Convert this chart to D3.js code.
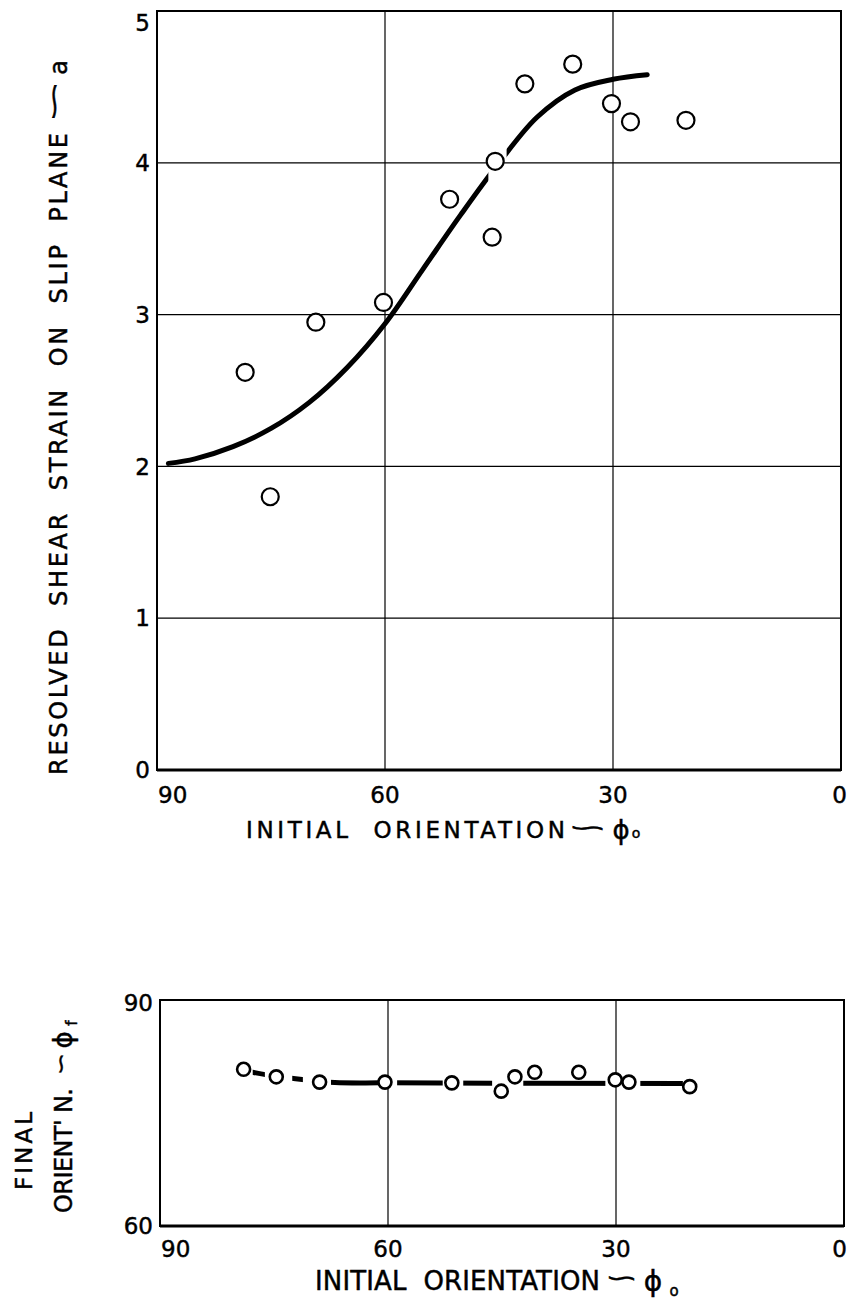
<!DOCTYPE html>
<html>
<head>
<meta charset="utf-8">
<script src="https://cdn.jsdelivr.net/npm/d3@7"></script>
<style>
  body { margin: 0; background: #fff; }
  svg { display: block; }
  text { font-family: "DejaVu Sans", sans-serif; fill: #000; stroke: #000; stroke-width: 0.45px; }
</style>
</head>
<body>
<div id="chart"></div>
<script>
// ---- data ----

// upper panel: resolved shear strain a vs initial orientation phi0
var strainPhi0 = [78.4, 75.1, 69.1, 60.2, 51.5, 45.9, 45.5, 41.6, 35.3, 30.2, 27.7, 20.4];
var strainA    = [2.62, 1.80, 2.95, 3.08, 3.76, 3.51, 4.01, 4.52, 4.65, 4.39, 4.27, 4.28];

// hand-drawn curve through them
var curvePhi0 = [88.5, 85, 80, 75, 70, 65, 60, 55, 50, 45, 40, 35, 30, 25.5];
var curveA    = [2.02, 2.05, 2.13, 2.25, 2.42, 2.65, 2.94, 3.30, 3.66, 4.00, 4.30, 4.48, 4.55, 4.58];
var curveInk  = [[90, 46.4], [44.0, 0]];   // curve is broken round one point

// lower panel: final orientation phif vs phi0
var finalPhi0 = [79.0, 74.7, 69.0, 60.4, 51.6, 45.1, 43.3, 40.7, 34.9, 30.1, 28.3, 20.3];
var finalPhif = [80.8, 79.8, 79.1, 79.1, 79.0, 77.9, 79.8, 80.4, 80.4, 79.4, 79.1, 78.5];

var fitPhi0 = [78, 75, 71, 67, 60, 21];
var fitPhif = [80.45, 79.9, 79.4, 79.05, 79.0, 78.9];
var fitInk  = [[77.8, 76.2], [72.6, 71.2], [67.5, 60.8], [58.8, 52.8], [50.1, 46.3], [42.2, 31.4], [26.8, 21.2]];

var xTicks = [90, 60, 30, 0];
var aTicks = [0, 1, 2, 3, 4, 5];
var fTicks = [60, 90];

// ---- drawing ----
var W = 847, H = 1299;
var svg = d3.select('#chart').append('svg')
	.attr('width', W)
	.attr('height', H);
svg.append('rect').attr('width', W).attr('height', H).attr('fill', '#fff');

// places a text, optionally stretched to a length; rot = rotate -90
function label(txt, x, y, size, opts) {
	opts = opts || {};
	var t = svg.append('text')
		.attr('transform', 'translate(' + x + ',' + y + ')' + (opts.rot ? ' rotate(-90)' : ''))
		.attr('text-anchor', opts.anchor || 'middle')
		.style('font-size', size + 'px')
		.style('white-space', 'pre')
		.text(txt);
	if (opts.len) {
		t.attr('textLength', opts.len)
		 .attr('lengthAdjust', opts.glyphs ? 'spacingAndGlyphs' : 'spacing');
	}
	if (opts.dy) t.attr('dy', opts.dy);
	return t;
}

function panel(cfg) {
	var x = d3.scaleLinear().domain([90, 0]).range([cfg.left, cfg.right]);
	var y = d3.scaleLinear().domain(cfg.yDomain).range([cfg.bottom, cfg.top]);
	var g = svg.append('g');

	// grid
	g.selectAll('.vg').data(xTicks.slice(1, -1)).enter().append('line')
		.attr('x1', function(d){ return x(d); })
		.attr('x2', function(d){ return x(d); })
		.attr('y1', cfg.top).attr('y2', cfg.bottom)
		.attr('stroke', '#000').attr('stroke-width', 1.2);
	g.selectAll('.hg').data(cfg.yTicks.slice(1, -1)).enter().append('line')
		.attr('y1', function(d){ return y(d); })
		.attr('y2', function(d){ return y(d); })
		.attr('x1', cfg.left).attr('x2', cfg.right)
		.attr('stroke', '#000').attr('stroke-width', 1.2);

	// frame
	g.append('rect')
		.attr('x', cfg.left).attr('y', cfg.top)
		.attr('width', cfg.right - cfg.left).attr('height', cfg.bottom - cfg.top)
		.attr('fill', 'none').attr('stroke', '#000').attr('stroke-width', 2);
	g.append('line')
		.attr('x1', cfg.left).attr('x2', cfg.right)
		.attr('y1', cfg.bottom).attr('y2', cfg.bottom)
		.attr('stroke', '#000').attr('stroke-width', 3);

	// tick labels: first one sits right of the corner, last one is held inside the page
	xTicks.forEach(function(d, i) {
		var last = i === xTicks.length - 1;
		label(String(d), i === 0 ? cfg.left + 1 : (last ? W : x(d)), cfg.xLabelY, 23,
			{anchor: i === 0 ? 'start' : (last ? 'end' : 'middle')});
	});
	cfg.yTicks.forEach(function(d, i) {
		var top = i === cfg.yTicks.length - 1;
		label(String(d), cfg.left - 7, y(d) + (top ? cfg.topNudge : 0), 23, {anchor: 'end', dy: '0.36em'});
	});

	// fitted line, clipped to where the ink is
	var clipId = 'clip' + cfg.id;
	var clip = svg.append('clipPath').attr('id', clipId);
	cfg.ink.forEach(function(r) {
		clip.append('rect')
			.attr('x', Math.min(x(r[0]), x(r[1])))
			.attr('width', Math.abs(x(r[1]) - x(r[0])))
			.attr('y', cfg.top).attr('height', cfg.bottom - cfg.top);
	});
	var line = d3.line()
		.x(function(d){ return x(d[0]); })
		.y(function(d){ return y(d[1]); })
		.curve(d3.curveCatmullRom);
	g.append('path')
		.datum(d3.zip(cfg.lineX, cfg.lineY))
		.attr('d', line)
		.attr('fill', 'none')
		.attr('stroke', '#000')
		.attr('stroke-width', cfg.lineWidth)
		.attr('stroke-linecap', 'round')
		.attr('clip-path', 'url(#' + clipId + ')');

	// points
	g.selectAll('.pt').data(d3.zip(cfg.ptX, cfg.ptY)).enter().append('circle')
		.attr('cx', function(d){ return x(d[0]); })
		.attr('cy', function(d){ return y(d[1]); })
		.attr('r', cfg.r)
		.attr('fill', '#fff')
		.attr('stroke', '#000')
		.attr('stroke-width', cfg.ptStroke);
}

panel({
	id: 'a', left: 157, right: 841, top: 11, bottom: 770,
	yDomain: [0, 5], yTicks: aTicks, xLabelY: 803, topNudge: 12,
	lineX: curvePhi0, lineY: curveA, ink: curveInk, lineWidth: 5,
	ptX: strainPhi0, ptY: strainA, r: 8.5, ptStroke: 2.2
});

panel({
	id: 'f', left: 160, right: 844, top: 1000, bottom: 1226,
	yDomain: [60, 90], yTicks: fTicks, xLabelY: 1257, topNudge: 3,
	lineX: fitPhi0, lineY: fitPhif, ink: fitInk, lineWidth: 5,
	ptX: finalPhi0, ptY: finalPhif, r: 6.5, ptStroke: 2.6
});

// ---- axis titles ----
// upper y
label('RESOLVED  SHEAR  STRAIN  ON  SLIP  PLANE', 67, 454, 24, {rot: true, len: 642});
label('\u223D', 62, 101.5, 24, {rot: true, len: 43, glyphs: true});
label('a', 67, 67.5, 24, {rot: true});
// upper x
label('INITIAL  ORIENTATION', 405.5, 838, 23, {len: 319});
label('\u223D', 587.5, 835, 22, {len: 39, glyphs: true});
label('\u03D5', 621, 839, 26);
label('o', 636, 838, 14);

// lower y
label('FINAL', 32, 1151, 23, {rot: true, len: 78});
label("ORIENT' N.", 72, 1150.5, 24, {rot: true, len: 125});
label('\u223D', 68, 1064, 22, {rot: true, len: 22, glyphs: true});
label('\u03D5', 72, 1040, 26, {rot: true});
label('f', 77, 1023, 15, {rot: true});
// lower x
label('INITIAL  ORIENTATION', 457.5, 1290, 26, {len: 285});
label('\u223D', 621.5, 1286, 24, {len: 33, glyphs: true});
label('\u03D5', 653, 1291, 28);
label('o', 674, 1296, 15);
</script>
</body>
</html>
